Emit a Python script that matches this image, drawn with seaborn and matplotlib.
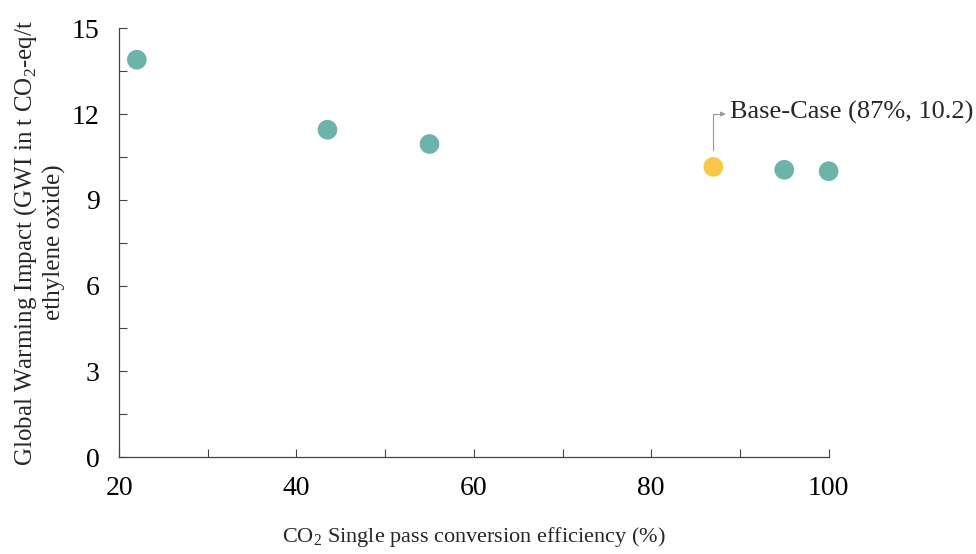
import matplotlib
matplotlib.use("Agg")
import matplotlib.pyplot as plt
import seaborn as sns
import pandas as pd
import numpy as np

# data
efficiency = [22, 43.5, 55, 87, 95, 100]
gwi = [13.9, 11.45, 10.95, 10.15, 10.05, 10.0]
case = ['Other', 'Other', 'Other', 'Base', 'Other', 'Other']

df = pd.DataFrame({'efficiency': efficiency, 'gwi': gwi, 'case': case})

sns.set_style('white')
plt.rcParams['font.family'] = ['Liberation Serif', 'DejaVu Serif']
plt.rcParams['mathtext.fontset'] = 'custom'
plt.rcParams['mathtext.rm'] = 'Liberation Serif'

fig, ax = plt.subplots(figsize=(9.76, 5.54), dpi=100)
fig.subplots_adjust(left=0.122, right=0.849, top=0.949, bottom=0.175)

sns.scatterplot(data=df, x='efficiency', y='gwi', hue='case',
                palette={'Other': '#6cb3aa', 'Base': '#f9c747'},
                s=200, edgecolor='none', legend=False, ax=ax, zorder=3,
                clip_on=False)

ax.set_xlim(20, 100)
ax.set_ylim(0, 15)
ax.set_xticks(np.arange(20, 101, 20))
ax.set_xticks(np.arange(20, 101, 10), minor=True)
ax.set_yticks(np.arange(0, 16, 3))
ax.set_yticks(np.arange(0, 15.1, 1.5), minor=True)
ax.tick_params(which='both', direction='in', length=6, width=0.8, color='#444444',
               labelsize=20, labelcolor='black', bottom=True, left=True)
ax.tick_params(axis='x', pad=14)
ax.tick_params(axis='y', pad=14)

for s in ['top', 'right']:
    ax.spines[s].set_visible(False)
for s in ['left', 'bottom']:
    ax.spines[s].set_color('#444444')
    ax.spines[s].set_linewidth(0.9)

ax.set_xlabel('CO$_2$ Single pass conversion efficiency (%)', fontsize=16, labelpad=17)
ax.set_ylabel('Global Warming Impact (GWI in t CO$_2$-eq/t\nethylene oxide)', fontsize=18,
              labelpad=4, linespacing=1.25)

ax.annotate('', xy=(88.4, 12.0), xytext=(87, 10.75),
            arrowprops=dict(arrowstyle='-|>', color='#999999', lw=0.8,
                            mutation_scale=7, shrinkA=0, shrinkB=0,
                            connectionstyle='angle,angleA=90,angleB=0,rad=0'))
ax.text(88.9, 12.05, 'Base-Case (87%, 10.2)', fontsize=19, va='center', ha='left',
        clip_on=False)

plt.savefig('out.png', dpi=100)
